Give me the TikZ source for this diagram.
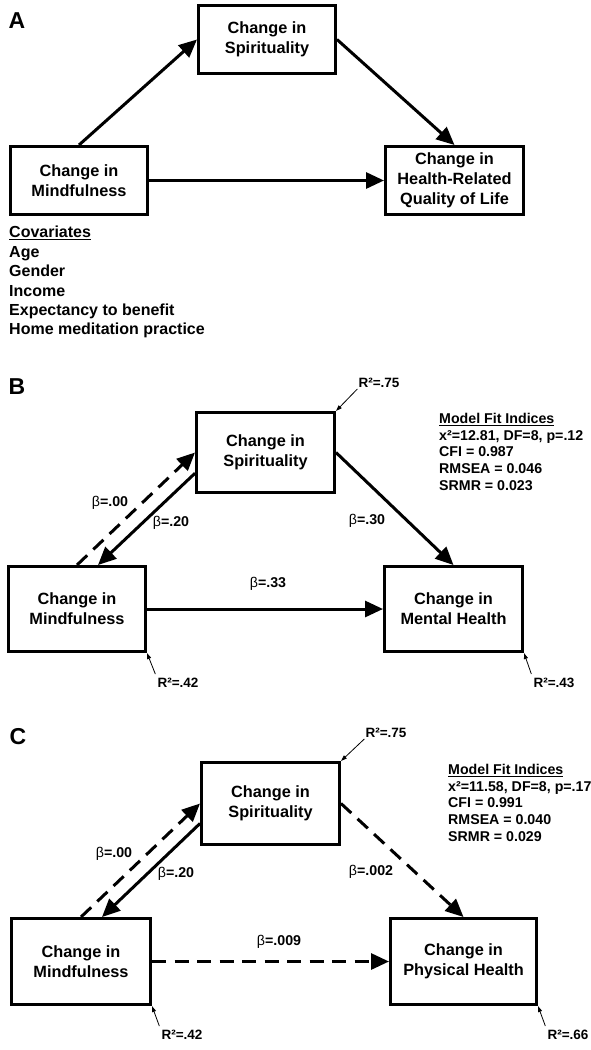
\documentclass[tikz,border=0pt]{standalone}
\usepackage{fontspec}
\setmainfont{Liberation Sans}
\usetikzlibrary{arrows.meta,calc}
\begin{document}
\begin{tikzpicture}[x=1pt,y=-1pt,
  box/.style={draw, line width=3pt, align=center, inner sep=0pt,
    font=\fontsize{16.3}{19.8}\selectfont\bfseries},
  conn/.style={line width=3pt, -{Triangle[length=18pt,width=16pt]}},
  dconn/.style={conn, dash pattern=on 14pt off 8.5pt},
  rlab/.style={font=\fontsize{13.5}{15}\selectfont\bfseries, inner sep=1pt},
  rarr/.style={line width=0.8pt, -{Triangle[length=6pt,width=4pt]}},
  blab/.style={font=\fontsize{14.2}{16}\selectfont\bfseries, inner sep=1pt},
  fitlab/.style={font=\fontsize{14.2}{16.7}\selectfont\bfseries, align=left, anchor=north west, inner sep=0pt},
  covs/.style={font=\fontsize{16}{19.4}\selectfont\bfseries, align=left, anchor=north west, inner sep=0pt},
  panel/.style={font=\fontsize{23}{25}\selectfont\bfseries, inner sep=0pt}
]
\useasboundingbox (0,0) rectangle (591,1050);

% ---------- Panel A ----------
\node[panel] (labA) at (17,21) {A};
\node[box, minimum width=137pt, minimum height=68pt] (spiritA) at (267,39.5) {Change in\\Spirituality};
\node[box, minimum width=137pt, minimum height=68pt] (mindA) at (79,180.5) {Change in\\Mindfulness};
\node[box, minimum width=138pt, minimum height=68pt] (hrqA) at (454.5,180.5) {Change in\\Health-Related\\Quality of Life};
\draw[conn] (mindA.north) -- (spiritA.west);
\draw[conn] (spiritA.east) -- (hrqA.north);
\draw[conn] (mindA.east) -- (hrqA.west);
\node[covs] (covA) at (9,226) {\underline{Covariates}\\Age\\Gender\\Income\\Expectancy to benefit\\Home meditation practice};

% ---------- Panel B ----------
\node[panel] (labB) at (17,387) {B};
\node[box, minimum width=138pt, minimum height=80pt] (spiritB) at (265.5,452.5) {Change in\\Spirituality};
\node[box, minimum width=137pt, minimum height=85pt] (mindB) at (77,609) {Change in\\Mindfulness};
\node[box, minimum width=138pt, minimum height=85pt] (mentB) at (453.5,609) {Change in\\Mental Health};
\draw[dconn] (mindB.north) -- (spiritB.west);
\draw[conn] ($(spiritB.west)!0.5!(spiritB.south west)$) -- ($(mindB.north)+(21,0)$);
\draw[conn] (spiritB.east) -- (mentB.north);
\draw[conn] (mindB.east) -- (mentB.west);
\node[blab] (b00B) at (110,503) {{\mdseries β}=.00};
\node[blab] (b20B) at (171,523) {{\mdseries β}=.20};
\node[blab] (b30B) at (367,521) {{\mdseries β}=.30};
\node[blab] (b33B) at (268,584) {{\mdseries β}=.33};
\node[rlab] (r75B) at (379,383) {R²=.75};
\node[rlab] (r42B) at (178,683) {R²=.42};
\node[rlab] (r43B) at (554,683) {R²=.43};
\draw[rarr] (r75B.south west) -- (spiritB.north east);
\draw[rarr] ($(r42B.north west)+(-1,-3)$) -- (mindB.south east);
\draw[rarr] ($(r43B.north west)+(-1,-3)$) -- (mentB.south east);
\node[fitlab] (fitB) at (439,413) {\underline{Model Fit Indices}\\x²=12.81, DF=8, p=.12\\CFI = 0.987\\RMSEA = 0.046\\SRMR = 0.023};

% ---------- Panel C ----------
\node[panel] (labC) at (18,737) {C};
\node[box, minimum width=138pt, minimum height=82pt] (spiritC) at (270.5,803.5) {Change in\\Spirituality};
\node[box, minimum width=139pt, minimum height=86pt] (mindC) at (81,961.5) {Change in\\Mindfulness};
\node[box, minimum width=146pt, minimum height=86pt] (physC) at (463.5,961.5) {Change in\\Physical Health};
\draw[dconn] (mindC.north) -- (spiritC.west);
\draw[conn] ($(spiritC.west)!0.47!(spiritC.south west)$) -- ($(mindC.north)+(21,0)$);
\draw[dconn] (spiritC.east) -- (physC.north);
\draw[dconn] (mindC.east) -- (physC.west);
\node[blab] (b00C) at (114,854) {{\mdseries β}=.00};
\node[blab] (b20C) at (176,874) {{\mdseries β}=.20};
\node[blab] (b002C) at (371,872) {{\mdseries β}=.002};
\node[blab] (b009C) at (279,942) {{\mdseries β}=.009};
\node[rlab] (r75C) at (386,733) {R²=.75};
\node[rlab] (r42C) at (182,1035) {R²=.42};
\node[rlab] (r66C) at (568,1035) {R²=.66};
\draw[rarr] (r75C.south west) -- (spiritC.north east);
\draw[rarr] ($(r42C.north west)+(-1,-3)$) -- (mindC.south east);
\draw[rarr] ($(r66C.north west)+(-1,-3)$) -- (physC.south east);
\node[fitlab] (fitC) at (448,764) {\underline{Model Fit Indices}\\x²=11.58, DF=8, p=.17\\CFI = 0.991\\RMSEA = 0.040\\SRMR = 0.029};
\end{tikzpicture}
\end{document}
